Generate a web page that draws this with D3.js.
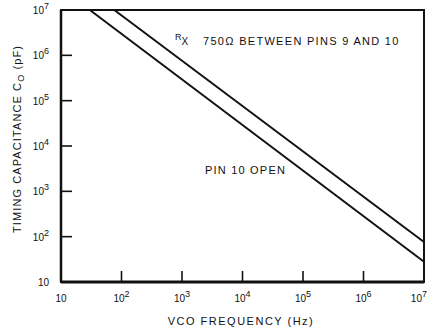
<!DOCTYPE html>
<html>
<head>
<meta charset="utf-8">
<script src="https://cdn.jsdelivr.net/npm/d3@7"></script>
<style>
  body { margin: 0; background: #fff; }
  text { font-family: "Liberation Sans", Arial, sans-serif; fill: #111; }
</style>
</head>
<body>
<figure id="chart" style="margin:0"></figure>
<script>
// decade ticks on both axes
var xTicks = [10, 1e2, 1e3, 1e4, 1e5, 1e6, 1e7];
var yTicks = [10, 1e2, 1e3, 1e4, 1e5, 1e6, 1e7];

// the two curves (frequency Hz, capacitance pF)
var pinOpenFreq = [30, 1e7];
var pinOpenCap = [1e7, 28];
var rxFreq = [76, 1e7];
var rxCap = [1e7, 76];

var width = 428, height = 328;
var plotLeft = 61, plotRight = 424, plotTop = 10, plotBottom = 282;

var svg = d3.select("figure#chart")
  .append("svg")
  .attr("width", width)
  .attr("height", height);

var x = d3.scaleLog().domain([10, 1e7]).range([plotLeft, plotRight]);
var y = d3.scaleLog().domain([10, 1e7]).range([plotBottom, plotTop]);

// box
svg.append("rect")
  .attr("x", plotLeft).attr("y", plotTop)
  .attr("width", plotRight - plotLeft).attr("height", plotBottom - plotTop)
  .attr("fill", "none").attr("stroke", "#111").attr("stroke-width", 2);

// thicker left + bottom axes
svg.append("line").attr("x1", plotLeft).attr("x2", plotLeft).attr("y1", plotTop).attr("y2", plotBottom)
  .attr("stroke", "#111").attr("stroke-width", 2.5);
svg.append("line").attr("x1", plotLeft).attr("x2", plotRight).attr("y1", plotBottom).attr("y2", plotBottom)
  .attr("stroke", "#111").attr("stroke-width", 3);

// inward ticks
var tickLen = 11;
svg.selectAll(".xt").data(xTicks.slice(1, -1)).enter().append("line")
  .attr("x1", d => x(d)).attr("x2", d => x(d))
  .attr("y1", plotBottom).attr("y2", plotBottom - tickLen)
  .attr("stroke", "#111").attr("stroke-width", 1.6);
svg.selectAll(".yt").data(yTicks.slice(1, -1)).enter().append("line")
  .attr("x1", plotLeft).attr("x2", plotLeft + tickLen)
  .attr("y1", d => y(d)).attr("y2", d => y(d))
  .attr("stroke", "#111").attr("stroke-width", 1.6);

function powLabel(sel, d) {
  var e = Math.round(Math.log10(d));
  sel.append("tspan").text("10");
  if (e > 1) sel.append("tspan").attr("dy", -5).attr("font-size", 9).text(e);
}

// y tick labels
svg.selectAll(".yl").data(yTicks).enter().append("text")
  .attr("x", 49).attr("y", d => y(d) + 4)
  .attr("text-anchor", "end")
  .attr("font-size", 10)
  .each(function(d) { powLabel(d3.select(this), d); });

// x tick labels (last one pushed in so it stays inside the page)
svg.selectAll(".xl").data(xTicks).enter().append("text")
  .attr("x", (d, i) => i == xTicks.length - 1 ? width - 1 : x(d))
  .attr("y", 302)
  .attr("text-anchor", (d, i) => i == xTicks.length - 1 ? "end" : "middle")
  .attr("font-size", 10)
  .each(function(d) { powLabel(d3.select(this), d); });

// axis titles
svg.append("text")
  .attr("x", 241).attr("y", 325)
  .attr("text-anchor", "middle")
  .attr("font-size", 11)
  .attr("letter-spacing", 1.5)
  .text("VCO FREQUENCY (Hz)");

var yt = svg.append("text")
  .attr("transform", "translate(21,139) rotate(-90)")
  .attr("text-anchor", "middle")
  .attr("font-size", 11)
  .attr("letter-spacing", 1.1);
yt.append("tspan").text("TIMING CAPACITANCE C");
yt.append("tspan").attr("dy", 3).attr("font-size", 9).text("O");
yt.append("tspan").attr("dy", -3).text(" (pF)");

// curves
var line = d3.line().x(d => x(d[0])).y(d => y(d[1]));
svg.append("path")
  .datum(pinOpenFreq.map((f, i) => [f, pinOpenCap[i]]))
  .attr("d", line)
  .attr("fill", "none").attr("stroke", "#111").attr("stroke-width", 2);
svg.append("path")
  .datum(rxFreq.map((f, i) => [f, rxCap[i]]))
  .attr("d", line)
  .attr("fill", "none").attr("stroke", "#111").attr("stroke-width", 2);

// annotations
var rx = svg.append("text").attr("x", 175).attr("y", 40).attr("font-size", 9);
rx.append("tspan").text("R");
rx.append("tspan").attr("dy", 5).attr("font-size", 10).text("X");
svg.append("text")
  .attr("x", 203).attr("y", 45)
  .attr("font-size", 11)
  .attr("letter-spacing", 1.3)
  .text("750\u03A9 BETWEEN PINS 9 AND 10");
svg.append("text")
  .attr("x", 205).attr("y", 174)
  .attr("font-size", 11)
  .attr("letter-spacing", 1.2)
  .text("PIN 10 OPEN");
</script>
</body>
</html>
